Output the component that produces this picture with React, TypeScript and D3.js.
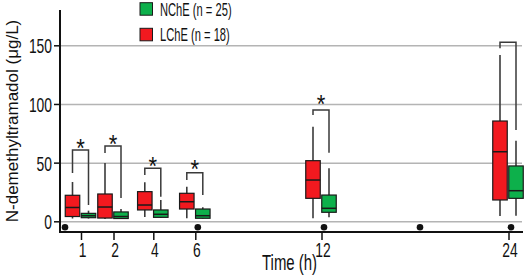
import React from "react";
import * as d3 from "d3";

// ---- data ----
const times = [1, 2, 4, 6, 12, 24];
const tickLabels = ["1", "2", "4", "6", "12", "24"];
const yTicks = [0, 50, 100, 150];
const dotTimes = [0, 6, 12, 18, 24];

// LChE (red): [whiskerLow, q1, median, q3, whiskerHigh]
const lcheStats = [
  [2.8, 4.5, 12.2, 22.6, 33.9],
  [2.4, 3.2, 12.6, 23.7, 50.1],
  [4.1, 10.1, 14.3, 25.7, 33.7],
  [3.0, 10.9, 17.1, 24.3, 29.9],
  [3.0, 20.0, 35.6, 52.1, 81.0],
  [4.9, 18.6, 59.7, 85.9, 142.2],
];
// NChE (green)
const ncheStats = [
  [2.8, 3.5, 5.2, 7.2, 9.5],
  [2.4, 2.8, 4.5, 8.4, 10.9],
  [3.2, 3.8, 6.4, 10.1, 18.6],
  [2.8, 3.0, 5.2, 10.9, 12.4],
  [3.8, 8.1, 11.5, 22.8, 45.6],
  [5.2, 20.0, 26.5, 47.6, 69.1],
];
// brackets: [top, leftBottom, rightBottom]
const brackets = [
  [61.2, 41.6, 14.3],
  [64.6, 58.6, 20.3],
  [45.6, 39.9, 21.4],
  [41.8, 35.6, 22.8],
  [95.3, 91.0, 58.9],
  [153.0, 147.9, 78.2],
];
// star position (value), null = no star
const stars: (number | null)[] = [68, 71.4, 52, 50, 105.3, null];

const legendItems = [
  { label: "NChE (n = 25)", color: "#0db04b" },
  { label: "LChE (n = 18)", color: "#f2191f" },
];

const RED = "#f2191f";
const GREEN = "#0db04b";
const FONT = "'Liberation Sans', Arial, sans-serif";
const SX = 0.66;

export default function App() {
  const W = 526, H = 276;
  const y = d3.scaleLinear().domain([0, 150]).range([221.8, 45.8]);
  const x = d3
    .scaleLinear()
    .domain([0, 1, 2, 4, 6, 12, 18, 24])
    .range([62, 80.5, 113, 152.8, 194.8, 321, 417, 508]);
  const axisX = 60;
  const axisY = 232;
  const boxOff = 8;
  const boxW = 14.5;

  const box = (s: number[], cx: number, color: string, key: string) => (
    <g key={key}>
      <line x1={cx} x2={cx} y1={y(s[0])} y2={y(s[4])} stroke="#3a3a3a" strokeWidth={1.6} />
      <rect
        x={cx - boxW / 2}
        y={y(s[3])}
        width={boxW}
        height={y(s[1]) - y(s[3])}
        fill={color}
        stroke="#1a1a1a"
        strokeWidth={1.2}
      />
      <line x1={cx - boxW / 2} x2={cx + boxW / 2} y1={y(s[2])} y2={y(s[2])} stroke="#1a1a1a" strokeWidth={1.5} />
    </g>
  );

  return (
    <svg width={W} height={H} style={{ position: "absolute", left: 0, top: 0, background: "#fff" }} fontFamily={FONT}>
      {/* gridlines */}
      {yTicks.map((t) => (
        <line key={"g" + t} x1={axisX} x2={522} y1={y(t)} y2={y(t)} stroke="#b4b4b4" strokeWidth={1.5} />
      ))}
      {/* brackets */}
      {times.map((t, i) => {
        const lx = x(t) - boxOff, rx = x(t) + boxOff;
        const b = brackets[i];
        return (
          <path
            key={"b" + t}
            d={`M${lx},${y(b[1])}V${y(b[0])}H${rx}V${y(b[2])}`}
            fill="none"
            stroke="#3a3a3a"
            strokeWidth={1.5}
          />
        );
      })}
      {/* stars */}
      {times.map((t, i) =>
        stars[i] == null ? null : (
          <text
            key={"s" + t}
            transform={`translate(${x(t)},${y(stars[i] as number) + 14.5}) scale(0.85,1)`}
            textAnchor="middle"
            fontSize={26}
            fill="#111"
          >
            *
          </text>
        )
      )}
      {/* boxes */}
      {times.map((t, i) => box(lcheStats[i], x(t) - boxOff, RED, "r" + t))}
      {times.map((t, i) => box(ncheStats[i], x(t) + boxOff, GREEN, "n" + t))}
      {/* dots */}
      {dotTimes.map((t) => (
        <circle key={"d" + t} cx={x(t) + 3} cy={227.3} r={3.3} fill="#111" />
      ))}
      {/* axes */}
      <line x1={axisX} x2={axisX} y1={10} y2={axisY + 1} stroke="#111" strokeWidth={2} />
      <line x1={axisX - 1} x2={523} y1={axisY} y2={axisY} stroke="#111" strokeWidth={2} />
      {yTicks.map((t) => (
        <g key={"yt" + t}>
          <line x1={axisX - 6} x2={axisX} y1={y(t)} y2={y(t)} stroke="#111" strokeWidth={1.5} />
          <text
            transform={`translate(${axisX - 8},${y(t) + 7.5}) scale(${SX},1)`}
            textAnchor="end"
            fontSize={21}
            fill="#111"
          >
            {t}
          </text>
        </g>
      ))}
      {times.map((t, i) => (
        <g key={"xt" + t}>
          <line x1={x(t) + 1} x2={x(t) + 1} y1={axisY} y2={axisY + 8} stroke="#111" strokeWidth={1.5} />
          <text
            transform={`translate(${x(t) + 2},${256.5}) scale(${SX},1)`}
            textAnchor="middle"
            fontSize={21}
            fill="#111"
          >
            {tickLabels[i]}
          </text>
        </g>
      ))}
      {/* axis titles */}
      <text transform={`translate(262,270) scale(0.68,1)`} fontSize={22} fill="#111">
        Time (h)
      </text>
      <text
        transform={`translate(18,121) rotate(-90) scale(0.81,0.76)`}
        textAnchor="middle"
        fontSize={21}
        fill="#111"
      >
        N-demethyltramadol (μg/L)
      </text>
      {/* legend */}
      {legendItems.map((it, i) => (
        <g key={"l" + i}>
          <rect x={140} y={2.7 + i * 25.6} width={12.5} height={12.5} fill={it.color} stroke="#1a1a1a" strokeWidth={1} />
          <text transform={`translate(160,${15.5 + i * 25.3}) scale(0.62,1)`} fontSize={18} fill="#111">
            {it.label}
          </text>
        </g>
      ))}
    </svg>
  );
}
